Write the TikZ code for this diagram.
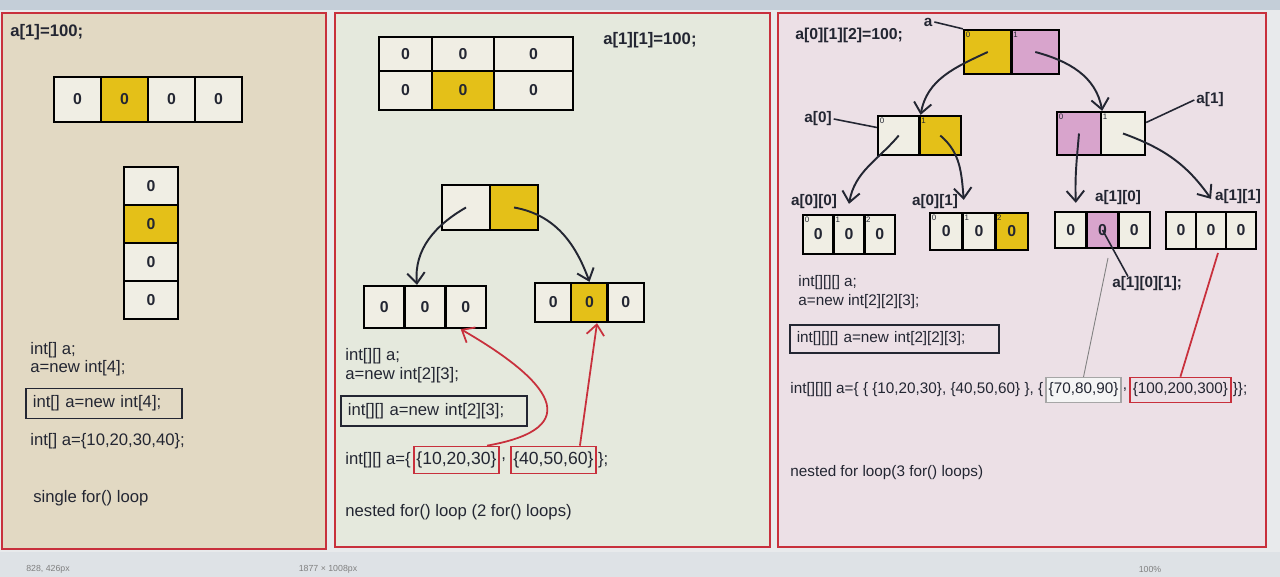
\documentclass[tikz,border=0pt]{standalone}
\usepackage{fontspec}
\setmainfont{Liberation Sans}
\usetikzlibrary{arrows.meta, positioning}
\definecolor{tanbg}{RGB}{226,217,195}
\definecolor{greenbg}{RGB}{229,233,221}
\definecolor{pinkbg}{RGB}{236,224,230}
\definecolor{cellwhite}{RGB}{240,238,228}
\definecolor{cellyellow}{RGB}{228,192,24}
\definecolor{cellpink}{RGB}{216,164,204}
\definecolor{framered}{RGB}{200,48,60}
\definecolor{inkdark}{RGB}{35,38,50}
\definecolor{screengray}{RGB}{232,234,236}
\definecolor{topstrip}{RGB}{196,206,216}
\definecolor{statusbar}{RGB}{222,226,230}

\begin{document}
\begin{tikzpicture}[x=0.02cm, y=0.02cm,
    panel/.style={draw=framered, line width=1.2pt},
    txt/.style={anchor=west, inner sep=0pt, text=inkdark, font=\fontsize{9.5}{11}\selectfont},
    ttl/.style={txt, font=\fontsize{9.5}{11}\selectfont\bfseries},
    ptxt/.style={txt, font=\fontsize{8.7}{10}\selectfont},
    plbl/.style={inner sep=1pt, text=inkdark, font=\fontsize{8.7}{10}\selectfont\bfseries},
    codebox/.style={draw=inkdark, line width=0.9pt, inner sep=4pt, anchor=west, align=left, text=inkdark, font=\fontsize{9.5}{11}\selectfont},
    cell/.style={draw=black, line width=1.3pt, fill=cellwhite, inner sep=0pt, text=inkdark, font=\fontsize{9}{10}\selectfont\bfseries},
    idx/.style={font=\fontsize{4.5}{5}\selectfont, inner sep=1.5pt, text=inkdark},
    arr/.style={draw=inkdark, line width=1.1pt, -{Straight Barb[length=6pt,width=10pt]}},
    redarr/.style={draw=framered, line width=1pt, -{Straight Barb[length=6pt,width=10pt]}},
    redbox/.style={draw=framered, line width=1pt, inner xsep=1.5pt, inner ysep=3pt, text=inkdark},
    greybox/.style={draw=gray!70, fill=black!4, line width=0.8pt, inner xsep=1.5pt, inner ysep=3pt, text=inkdark},
    pointer/.style={draw=inkdark, line width=0.9pt},
    status/.style={text=gray, font=\fontsize{5}{6}\selectfont}]
    \useasboundingbox (0,0) rectangle (1280,577);

    % Screen around the panels
    \fill[screengray] (0,0) rectangle (1280,577);
    \fill[topstrip] (0,567) rectangle (1280,577);
    \fill[statusbar] (0,0) rectangle (1280,25);
    \node[status] (st1) at (48,8) {828, 426px};
    \node[status] (st2) at (328,8) {1877 × 1008px};
    \node[status] (st3) at (1150,8) {100\%};

    % Panel 1: one dimensional array
    \draw[panel, fill=tanbg] (2,564) rectangle (326,28);
    \node[ttl] (p1title) at (10,545) {a[1]=100;};
    \foreach \i/\c in {0/cellwhite, 1/cellyellow, 2/cellwhite, 3/cellwhite}
        \node[cell, fill=\c, minimum width=0.94cm, minimum height=0.9cm] (h\i) at (77.5+47*\i,477.5) {0};
    \foreach \i/\c in {0/cellwhite, 1/cellyellow, 2/cellwhite, 3/cellwhite}
        \node[cell, fill=\c, minimum width=1.08cm, minimum height=0.76cm] (v\i) at (151,391-38*\i) {0};
    \node[txt] (p1decl) at (30,227) {int[] a;};
    \node[txt] (p1new) at (30,209) {a=new int[4];};
    \node[codebox, text width=2.84cm] (p1box) at (25,173.5) {int[] a=new int[4];};
    \node[txt] (p1init) at (30,136) {int[] a=\{10,20,30,40\};};
    \node[txt] (p1loop) at (33,79) {single for() loop};

    % Panel 2: two dimensional array
    \draw[panel, fill=greenbg] (335,564) rectangle (770,30);
    \foreach \r/\y/\h/\mf in {0/523/0.68cm/cellwhite, 1/486.5/0.78cm/cellyellow}
        \foreach \c/\x/\w/\f in {0/405.5/1.06cm/cellwhite, 1/463/1.24cm/\mf, 2/533.5/1.58cm/cellwhite}
            \node[cell, fill=\f, minimum width=\w, minimum height=\h] (g\r\c) at (\x,\y) {0};
    \node[ttl] (p2title) at (603,537) {a[1][1]=100;};

    \node[cell, minimum width=0.96cm, minimum height=0.9cm] (t0) at (466,369.5) {};
    \node[cell, fill=cellyellow, minimum width=0.96cm, minimum height=0.9cm] (t1) at (514,369.5) {};
    \foreach \i in {0,1,2}
        \node[cell, minimum width=0.813cm, minimum height=0.84cm] (ba\i) at (384.3+40.7*\i,270) {0};
    \foreach \i/\c in {0/cellwhite, 1/cellyellow, 2/cellwhite}
        \node[cell, fill=\c, minimum width=0.727cm, minimum height=0.78cm] (br\i) at (553.2+36.3*\i,274.5) {0};
    \draw[arr] (t0.center) to[out=210, in=95] ([xshift=-0.16cm]ba1.north);
    \draw[arr] (t1.center) to[out=-10, in=110] (br1.north);

    \node[txt] (p2decl) at (345,221) {int[][] a;};
    \node[txt] (p2new) at (345,202) {a=new int[2][3];};
    \node[codebox, text width=3.44cm] (p2box) at (340,166) {int[][] a=new int[2][3];};
    \node[txt] (p2inita) at (345,117) {int[][] a=\{};
    \node[redbox, right=1pt of p2inita] (rb1) {\{10,20,30\}};
    \node[txt, right=0.5pt of rb1] (p2initb) {,};
    \node[redbox, right=2pt of p2initb] (rb2) {\{40,50,60\}};
    \node[txt, right=0.5pt of rb2] (p2initc) {\};};
    \draw[redarr] ([xshift=-0.26cm]rb1.north east) to[out=10, in=-30, looseness=2.2] ([xshift=-0.1cm]ba2.south);
    \draw[redarr] ([xshift=-0.34cm]rb2.north east) -- ([xshift=0.15cm]br1.south);
    \node[txt] (p2loop) at (345,65) {nested for() loop (2 for() loops)};

    % Panel 3: three dimensional array
    \draw[panel, fill=pinkbg] (778,564) rectangle (1266,30);
    \node[ttl, font=\fontsize{9}{10}\selectfont\bfseries] (p3title) at (795,542) {a[0][1][2]=100;};

    \foreach \i/\x/\c in {0/987.75/cellyellow, 1/1035.25/cellpink}
        \node[cell, fill=\c, minimum width=0.95cm, minimum height=0.88cm, label={[idx, anchor=north west]north west:\i}] (ta\i) at (\x,525) {};
    \foreach \i/\x/\c in {0/898.75/cellwhite, 1/940.25/cellyellow}
        \node[cell, fill=\c, minimum width=0.83cm, minimum height=0.78cm, label={[idx, anchor=north west]north west:\i}] (b0c\i) at (\x,441.5) {};
    \foreach \i/\x/\c in {0/1079/cellpink, 1/1123/cellwhite}
        \node[cell, fill=\c, minimum width=0.88cm, minimum height=0.86cm, label={[idx, anchor=north west]north west:\i}] (b1c\i) at (\x,443.5) {};

    \node[plbl] (lbla) at (928,555) {a};
    \node[plbl] (lbla0) at (818,458) {a[0]};
    \node[plbl] (lbla1) at (1210,477) {a[1]};
    \draw[pointer] (lbla.east) -- (ta0.north west);
    \draw[pointer] (lbla0.east) -- ([yshift=0.16cm]b0c0.west);
    \draw[pointer] (lbla1.west) -- ([yshift=0.22cm]b1c1.east);

    % innermost arrays
    \foreach \i/\x in {0/818.3, 1/849, 2/879.7}
        \node[cell, minimum width=0.613cm, minimum height=0.78cm, label={[idx, anchor=north west]north west:\i}] (c00-\i) at (\x,342.5) {0};
    \foreach \i/\x/\c in {0/946.3/cellwhite, 1/979/cellwhite, 2/1011.7/cellyellow}
        \node[cell, fill=\c, minimum width=0.653cm, minimum height=0.74cm, label={[idx, anchor=north west]north west:\i}] (c01-\i) at (\x,345.5) {0};
    \foreach \i/\x/\c in {0/1070.8/cellwhite, 1/1102.5/cellpink, 2/1134.2/cellwhite}
        \node[cell, fill=\c, minimum width=0.633cm, minimum height=0.72cm] (c10-\i) at (\x,347) {0};
    \foreach \i/\x in {0/1181, 1/1211, 2/1241}
        \node[cell, minimum width=0.6cm, minimum height=0.74cm] (c11-\i) at (\x,346.5) {0};

    \node[plbl] (lbl00) at (814,375) {a[0][0]};
    \node[plbl] (lbl01) at (935,375) {a[0][1]};
    \node[plbl] (lbl10) at (1118,379) {a[1][0]};
    \node[plbl] (lbl11) at (1238,380) {a[1][1]};

    \draw[arr] (ta0.center) to[out=205, in=80] (b0c0.north east);
    \draw[arr] (ta1.center) to[out=-15, in=100] (b1c0.north east);
    \draw[arr] (b0c0.center) to[out=230, in=80] ([yshift=0.2cm]c00-1.north);
    \draw[arr] (b0c1.center) to[out=-40, in=95] ([yshift=0.24cm]c01-0.north east);
    \draw[arr] (b1c0.center) to[out=-95, in=92] ([xshift=0.1cm, yshift=0.16cm]c10-0.north);
    \draw[arr] (b1c1.center) to[out=-20, in=125] ([yshift=0.24cm]c11-1.north);

    \node[ptxt, font=\fontsize{8.7}{10}\selectfont\bfseries] (lbl101) at (1112,293) {a[1][0][1];};
    \draw[pointer] (c10-1.center) -- ([xshift=0.32cm]lbl101.north west);

    \node[ptxt] (p3decl) at (798,294) {int[][][] a;};
    \node[ptxt] (p3new) at (798,275) {a=new int[2][2][3];};
    \node[codebox, text width=3.9cm, font=\fontsize{8.7}{10}\selectfont] (p3box) at (789,238) {int[][][] a=new int[2][2][3];};
    \node[ptxt] (p3inita) at (790,187) {int[][][] a=\{ \{ \{10,20,30\}, \{40,50,60\} \}, \{};
    \node[greybox, right=1pt of p3inita, font=\fontsize{8.7}{10}\selectfont] (gbox) {\{70,80,90\}};
    \node[ptxt, right=0.5pt of gbox] (p3initb) {,};
    \node[redbox, right=1pt of p3initb, font=\fontsize{8.7}{10}\selectfont] (rbox) {\{100,200,300\}};
    \node[ptxt, right=0.5pt of rbox] (p3initc) {\}\};};
    \coordinate (gtop) at (1108,319);
    \coordinate (rtop) at (1218,324);
    \draw[gray, line width=0.5pt] (gbox.north) -- (gtop);
    \draw[framered, line width=1pt] (rbox.north) -- (rtop);
    \node[ptxt] (p3loop) at (790,104) {nested for loop(3 for() loops)};
\end{tikzpicture}
\end{document}
